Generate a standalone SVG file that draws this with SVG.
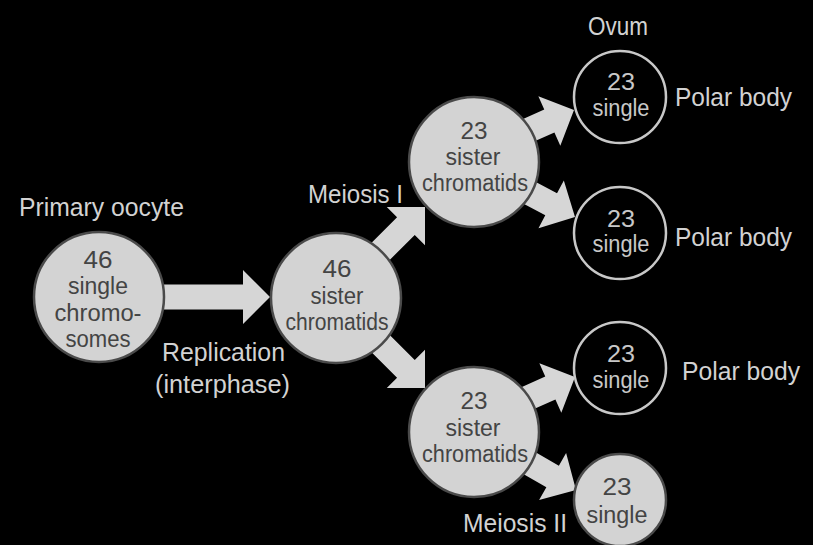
<svg xmlns="http://www.w3.org/2000/svg" width="813" height="545" viewBox="0 0 813 545">
<defs>
<style>
.bg{fill:#000}
.arrow{fill:#d6d6d6}
.big{fill:#d3d3d3;stroke:#4a4a4a;stroke-width:2.5}
.small{fill:#000;stroke:#c8c8c8;stroke-width:2.5}
.smallf{fill:#d3d3d3;stroke:#4a4a4a;stroke-width:2.5}
text{font-family:"Liberation Sans",Arial,sans-serif}
.ct{fill:#444;font-size:23.5px;text-anchor:middle}
.st{fill:#c8c8c8;font-size:23px;text-anchor:middle}
.lb{fill:#d2d2d2;font-size:26px}
</style>
<polygon id="arr" points="-130,-12.5 -27,-12.5 -27,-27 0,0 -27,27 -27,12.5 -130,12.5"/>
</defs>
<rect class="bg" x="0" y="0" width="813" height="545"/>
<g id="connectors" class="arrow">
<use href="#arr" transform="translate(270,297)"/>
<use href="#arr" transform="translate(425,207) rotate(-45)"/>
<use href="#arr" transform="translate(425,388) rotate(45)"/>
<use href="#arr" transform="translate(574,110) rotate(-24)"/>
<use href="#arr" transform="translate(575,217) rotate(28)"/>
<use href="#arr" transform="translate(575,377) rotate(-24)"/>
<use href="#arr" transform="translate(576,490) rotate(30)"/>
</g>
<g id="primary-oocyte">
<circle class="big" cx="99" cy="297" r="65"/>
<text class="ct" x="98" y="268" textLength="29" lengthAdjust="spacingAndGlyphs">46</text>
<text class="ct" x="98" y="294" textLength="60" lengthAdjust="spacingAndGlyphs">single</text>
<text class="ct" x="98" y="321" textLength="87" lengthAdjust="spacingAndGlyphs">chromo-</text>
<text class="ct" x="98" y="347" textLength="65" lengthAdjust="spacingAndGlyphs">somes</text>
</g>
<g id="secondary">
<circle class="big" cx="336" cy="298" r="65"/>
<text class="ct" x="337" y="277" textLength="29" lengthAdjust="spacingAndGlyphs">46</text>
<text class="ct" x="337" y="304" textLength="53" lengthAdjust="spacingAndGlyphs">sister</text>
<text class="ct" x="337" y="330" textLength="103" lengthAdjust="spacingAndGlyphs">chromatids</text>
</g>
<g id="top-23">
<circle class="big" cx="474" cy="162" r="65"/>
<text class="ct" x="474" y="139" textLength="27" lengthAdjust="spacingAndGlyphs">23</text>
<text class="ct" x="473" y="165" textLength="55" lengthAdjust="spacingAndGlyphs">sister</text>
<text class="ct" x="475" y="191" textLength="106" lengthAdjust="spacingAndGlyphs">chromatids</text>
</g>
<g id="bottom-23">
<circle class="big" cx="474" cy="432" r="65"/>
<text class="ct" x="474" y="409" textLength="27" lengthAdjust="spacingAndGlyphs">23</text>
<text class="ct" x="473" y="436" textLength="55" lengthAdjust="spacingAndGlyphs">sister</text>
<text class="ct" x="475" y="462" textLength="106" lengthAdjust="spacingAndGlyphs">chromatids</text>
</g>
<g id="cell-1">
<circle class="small" cx="620" cy="97" r="46"/>
<text class="st" x="621" y="90" textLength="28" lengthAdjust="spacingAndGlyphs">23</text>
<text class="st" x="621" y="116" textLength="57" lengthAdjust="spacingAndGlyphs">single</text>
</g>
<g id="cell-2">
<circle class="small" cx="620" cy="233" r="46"/>
<text class="st" x="621" y="227" textLength="28" lengthAdjust="spacingAndGlyphs">23</text>
<text class="st" x="621" y="252" textLength="57" lengthAdjust="spacingAndGlyphs">single</text>
</g>
<g id="cell-3">
<circle class="small" cx="620" cy="368" r="46"/>
<text class="st" x="621" y="362" textLength="28" lengthAdjust="spacingAndGlyphs">23</text>
<text class="st" x="621" y="388" textLength="57" lengthAdjust="spacingAndGlyphs">single</text>
</g>
<g id="cell-4">
<circle class="smallf" cx="620" cy="500" r="46"/>
<text class="ct" x="617" y="495" textLength="29" lengthAdjust="spacingAndGlyphs">23</text>
<text class="ct" x="617" y="523" textLength="61" lengthAdjust="spacingAndGlyphs">single</text>
</g>
<g id="labels">
<text class="lb" x="19" y="216" textLength="165" lengthAdjust="spacingAndGlyphs">Primary oocyte</text>
<text class="lb" x="308" y="203" textLength="95" lengthAdjust="spacingAndGlyphs">Meiosis I</text>
<text class="lb" x="162" y="361" textLength="123" lengthAdjust="spacingAndGlyphs">Replication</text>
<text class="lb" x="155" y="393" textLength="135" lengthAdjust="spacingAndGlyphs">(interphase)</text>
<text class="lb" x="588" y="35" textLength="60" lengthAdjust="spacingAndGlyphs">Ovum</text>
<text class="lb" x="675" y="106" textLength="117" lengthAdjust="spacingAndGlyphs">Polar body</text>
<text class="lb" x="675" y="246" textLength="117" lengthAdjust="spacingAndGlyphs">Polar body</text>
<text class="lb" x="682" y="380" textLength="118" lengthAdjust="spacingAndGlyphs">Polar body</text>
<text class="lb" x="463" y="532" textLength="104" lengthAdjust="spacingAndGlyphs">Meiosis II</text>
</g>
</svg>
